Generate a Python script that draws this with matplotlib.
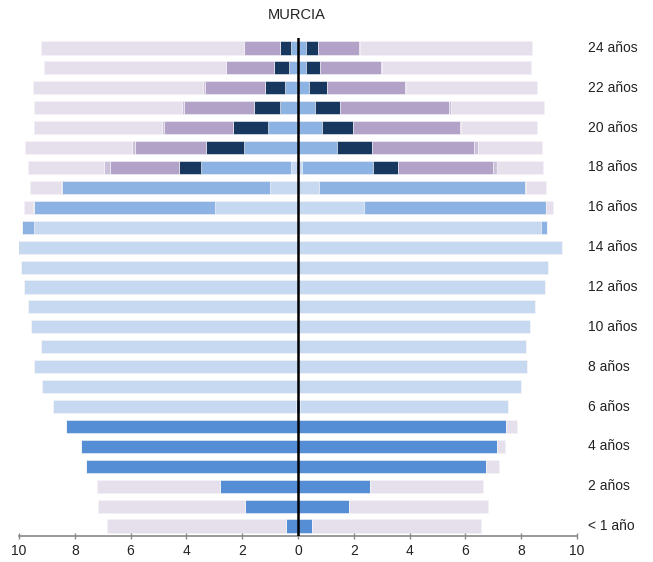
import matplotlib
matplotlib.use("Agg")
import matplotlib.pyplot as plt
import numpy as np

plt.rcParams['font.family'] = ['Liberation Sans', 'DejaVu Sans']

title = "MURCIA"
ages = list(range(25))
age_labels = ["< 1 año"] + [f"{a} años" for a in range(1, 25)]

categories = ["Infantil", "Primaria", "ESO", "Bachillerato", "Universidad", "Otros", "No estudia"]
colors = ["#558ed5", "#c6d9f1", "#8db3e2", "#17375e", "#b3a2c7", "#ccc1da", "#e6e0ec"]

# Left side (ages 0..24)
left_infantil = [0.44, 1.91, 2.81, 7.61, 7.79, 8.33, 0.08, 0, 0, 0, 0, 0, 0, 0, 0, 0, 0, 0, 0, 0, 0, 0, 0, 0, 0]
left_primaria = [0, 0, 0, 0, 0, 0, 8.71, 9.19, 9.45, 9.22, 9.58, 9.66, 9.83, 9.92, 10.03, 9.45, 2.99, 1.02, 0.24, 0, 0, 0, 0, 0, 0]
left_eso = [0, 0, 0, 0, 0, 0, 0, 0, 0, 0, 0, 0, 0, 0, 0, 0.46, 6.46, 7.43, 3.23, 1.92, 1.08, 0.63, 0.45, 0.32, 0.26]
left_bach = [0, 0, 0, 0, 0, 0, 0, 0, 0, 0, 0, 0, 0, 0, 0, 0, 0, 0, 0.81, 1.36, 1.25, 0.96, 0.75, 0.55, 0.40]
left_univ = [0, 0, 0, 0, 0, 0, 0, 0, 0, 0, 0, 0, 0, 0, 0, 0, 0, 0, 2.45, 2.56, 2.48, 2.49, 2.15, 1.70, 1.26]
left_otros = [0, 0, 0, 0, 0, 0, 0, 0, 0, 0, 0, 0, 0, 0, 0, 0, 0.04, 0.04, 0.21, 0.12, 0.07, 0.06, 0.05, 0.02, 0.02]
left_none = [6.39, 5.25, 4.39, 0, 0, 0, 0, 0, 0, 0, 0, 0, 0, 0, 0, 0, 0.32, 1.10, 2.73, 3.82, 4.57, 5.32, 6.11, 6.50, 7.26]

# Right side (ages 0..24)
right_infantil = [0.49, 1.82, 2.57, 6.73, 7.13, 7.47, 0.06, 0, 0, 0, 0, 0, 0, 0, 0, 0, 0, 0, 0, 0, 0, 0, 0, 0, 0]
right_primaria = [0, 0, 0, 0, 0, 0, 7.47, 7.98, 8.20, 8.18, 8.32, 8.51, 8.85, 8.97, 9.45, 8.71, 2.38, 0.74, 0.14, 0, 0, 0, 0, 0, 0]
right_eso = [0, 0, 0, 0, 0, 0, 0, 0, 0, 0, 0, 0, 0, 0, 0, 0.20, 6.51, 7.39, 2.55, 1.38, 0.86, 0.60, 0.38, 0.30, 0.29]
right_bach = [0, 0, 0, 0, 0, 0, 0, 0, 0, 0, 0, 0, 0, 0, 0, 0, 0, 0, 0.89, 1.27, 1.11, 0.92, 0.66, 0.49, 0.43]
right_univ = [0, 0, 0, 0, 0, 0, 0, 0, 0, 0, 0, 0, 0, 0, 0, 0, 0, 0, 3.41, 3.67, 3.82, 3.89, 2.78, 2.20, 1.48]
right_otros = [0, 0, 0, 0, 0, 0, 0, 0, 0, 0, 0, 0, 0, 0, 0, 0, 0, 0.05, 0.14, 0.12, 0.07, 0.07, 0.05, 0.03, 0.02]
right_none = [6.07, 4.98, 4.06, 0.48, 0.30, 0.37, 0, 0, 0, 0, 0, 0, 0, 0, 0, 0, 0.25, 0.71, 1.65, 2.32, 2.72, 3.34, 4.71, 5.32, 6.16]

left_series = [left_infantil, left_primaria, left_eso, left_bach, left_univ, left_otros, left_none]
right_series = [right_infantil, right_primaria, right_eso, right_bach, right_univ, right_otros, right_none]

xticks = [-10, -8, -6, -4, -2, 0, 2, 4, 6, 8, 10]

fig = plt.figure(figsize=(6.53, 5.62), dpi=100)
ax = fig.add_axes([19 / 653, 1 - 536 / 562, (577 - 19) / 653, (536 - 38) / 562])

y = np.array(ages)
h = 0.66
lc = np.zeros(len(ages))
rc = np.zeros(len(ages))
for vals_l, vals_r, col in zip(left_series, right_series, colors):
    vl = np.array(vals_l, dtype=float)
    vr = np.array(vals_r, dtype=float)
    ax.barh(y, -vl, left=-lc, height=h, color=col, edgecolor="#f4f4f8", linewidth=0.4)
    ax.barh(y, vr, left=rc, height=h, color=col, edgecolor="#f4f4f8", linewidth=0.4)
    lc += vl
    rc += vr

ax.axvline(0, color="black", linewidth=1.8, zorder=5)

ax.set_xlim(-10, 10)
ax.set_ylim(-0.5, 24.5)
ax.set_xticks(xticks)
ax.set_xticklabels([str(abs(t)) for t in xticks], fontsize=10, color="#222222")
ax.tick_params(axis="x", direction="inout", length=4, width=1, color="#888888", pad=4)
ax.set_yticks([])
for s in ["top", "left", "right"]:
    ax.spines[s].set_visible(False)
ax.spines["bottom"].set_color("#888888")
ax.spines["bottom"].set_linewidth(1.2)

for a in ages:
    if a % 2 == 0:
        ax.text(10.4, a, age_labels[a], va="center", ha="left", fontsize=10, color="#222222",
                clip_on=False)

fig.text(297 / 653, 1 - 15 / 562, title, ha="center", va="center", fontsize=10.5, color="#222222")

fig.savefig("out.png", dpi=100)
